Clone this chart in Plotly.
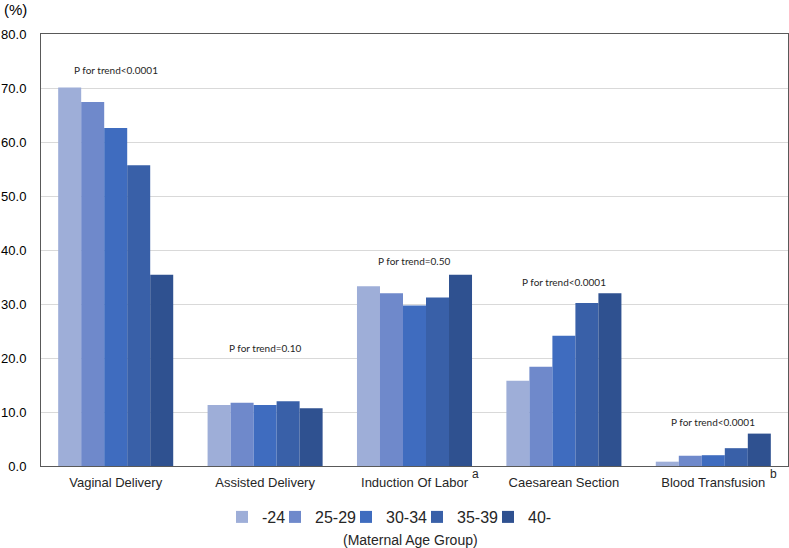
import plotly.graph_objects as go

categories = ["Vaginal Delivery", "Assisted Delivery", "Induction Of Labor", "Caesarean Section", "Blood Transfusion"]
age_groups = ["-24", "25-29", "30-34", "35-39", "40-"]
v_24 = [70.1, 11.3, 33.3, 15.8, 0.8]
v_25_29 = [67.4, 11.7, 32.0, 18.4, 1.9]
v_30_34 = [62.6, 11.3, 29.7, 24.1, 2.0]
v_35_39 = [55.7, 12.0, 31.2, 30.2, 3.3]
v_40 = [35.4, 10.7, 35.4, 32.0, 6.0]
series = [v_24, v_25_29, v_30_34, v_35_39, v_40]
colors = ["#9EAED8", "#6F89CB", "#3F6CBF", "#3960A8", "#2F5190"]

p_labels = ["P for trend<0.0001", "P for trend=0.10", "P for trend=0.50", "P for trend<0.0001", "P for trend<0.0001"]
p_y = [73.3, 21.9, 38.0, 34.0, 8.2]
tick_vals = [0, 10, 20, 30, 40, 50, 60, 70, 80]

# pixel geometry of the plot area
W, H = 789, 548
L, R, T, B = 41, 1, 34, 82
pw, ph = W - L - R, H - T - B

# legend text start positions (px)
legend_text_px = [262, 315, 386, 457, 528]

fig = go.Figure()
legend_layouts = {}
for i, (name, vals, col) in enumerate(zip(age_groups, series, colors)):
    lname = "legend" if i == 0 else f"legend{i+1}"
    fig.add_trace(go.Bar(name=name, x=categories, y=vals, marker=dict(color=col, line=dict(width=0)),
                         legend=lname, showlegend=True))
    lx = (legend_text_px[i] - 40 - L) / pw
    legend_layouts[lname] = dict(orientation="h", x=lx, y=(H - B - 517) / ph, xanchor="left", yanchor="middle",
                                 font=dict(family="Liberation Sans", size=16, color="#262626"),
                                 itemwidth=30, bgcolor="rgba(0,0,0,0)", borderwidth=0)

for cat, lab, yy in zip(categories, p_labels, p_y):
    fig.add_annotation(x=cat, y=yy, text=lab, showarrow=False, xanchor="center", yanchor="middle",
                       font=dict(family="Lato", size=10, color="#262626"))

fig.add_annotation(x=2.405, xref="x", yref="paper", y=(H - B - 474) / ph, text="a", showarrow=False,
                   yanchor="middle", font=dict(family="Liberation Sans", size=12, color="#262626"))
fig.add_annotation(x=4.4, xref="x", yref="paper", y=(H - B - 474) / ph, text="b", showarrow=False,
                   yanchor="middle", font=dict(family="Liberation Sans", size=12, color="#262626"))
fig.add_annotation(xref="paper", yref="paper", x=(2 - L) / pw, y=(H - B - 10) / ph, text="(%)", showarrow=False,
                   xanchor="left", yanchor="middle", font=dict(family="Liberation Sans", size=15, color="#000000"))
fig.add_annotation(xref="paper", yref="paper", x=(410 - L) / pw, y=(H - B - 540) / ph, text="(Maternal Age Group)",
                   showarrow=False, xanchor="center", yanchor="middle",
                   font=dict(family="Liberation Sans", size=14, color="#262626"))

fig.update_layout(
    width=W, height=H,
    margin=dict(l=L, r=R, t=T, b=B, autoexpand=False),
    paper_bgcolor="white", plot_bgcolor="white",
    barmode="group", bargap=0.23, bargroupgap=0,
    showlegend=True,
    font=dict(family="Liberation Sans", color="#262626"),
    **legend_layouts,
)
fig.update_xaxes(showline=True, linecolor="#595959", linewidth=1, mirror=True, ticks="",
                 tickfont=dict(family="Liberation Sans", size=13, color="#262626"), ticklabelstandoff=4,
                 automargin=False)
fig.update_yaxes(range=[0, 80], tickvals=tick_vals, tickformat=".1f", showgrid=True, gridcolor="#D9D9D9",
                 showline=True, linecolor="#595959", linewidth=1, mirror=True, ticks="", zeroline=False,
                 tickfont=dict(family="Liberation Sans", size=13, color="#000000"), ticklabelstandoff=11,
                 automargin=False)

fig.write_html("out.html", config={"displayModeBar": False},
               post_script="document.body.style.margin='0';document.body.style.overflow='hidden';")
